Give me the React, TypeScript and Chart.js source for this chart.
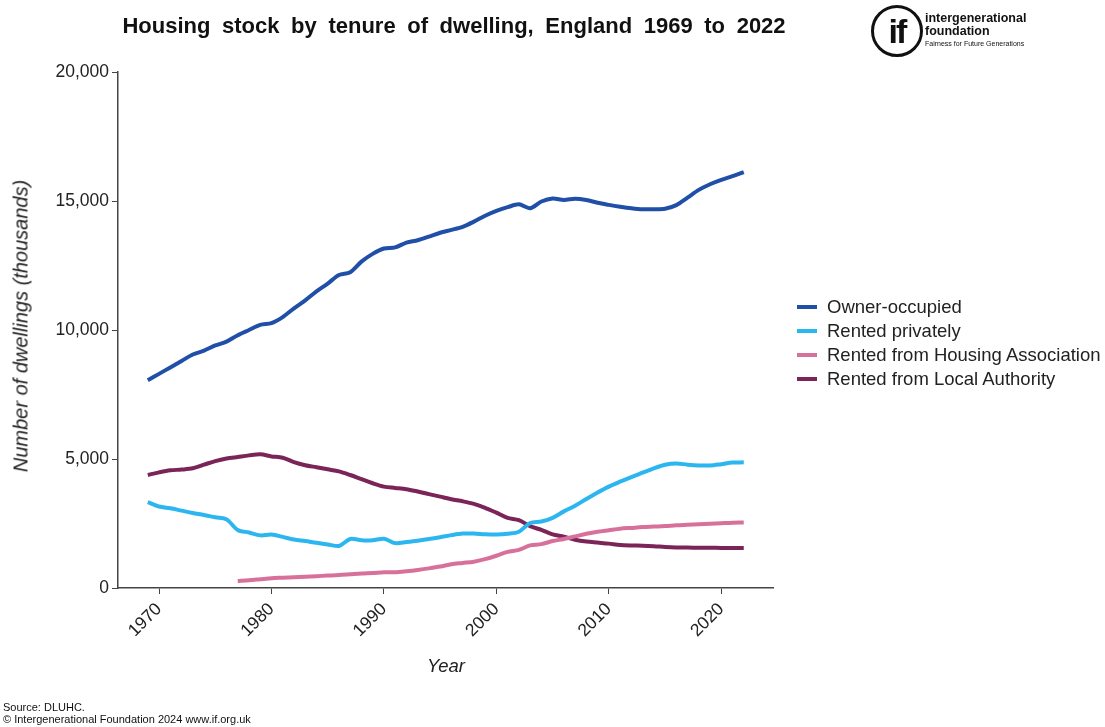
import React, { useEffect, useRef } from "react";
import { Chart, registerables } from "chart.js";

Chart.register(...registerables);

const years = [
  1969, 1970, 1971, 1972, 1973, 1974, 1975, 1976, 1977, 1978,
  1979, 1980, 1981, 1982, 1983, 1984, 1985, 1986, 1987, 1988,
  1989, 1990, 1991, 1992, 1993, 1994, 1995, 1996, 1997, 1998,
  1999, 2000, 2001, 2002, 2003, 2004, 2005, 2006, 2007, 2008,
  2009, 2010, 2011, 2012, 2013, 2014, 2015, 2016, 2017, 2018,
  2019, 2020, 2021, 2022,
];

const ownerOccupied = [
  8050, 8300, 8550, 8800, 9050, 9200, 9400, 9550, 9800, 10000,
  10200, 10270, 10500, 10840, 11150, 11500, 11800, 12130, 12240, 12650,
  12950, 13160, 13200, 13390, 13480, 13620, 13770, 13880, 14000, 14200,
  14430, 14620, 14760, 14870, 14720, 14980, 15100, 15040, 15090, 15040,
  14930, 14850, 14780, 14720, 14680, 14680, 14700, 14840, 15130, 15430,
  15650, 15820, 15960, 16120,
];

const rentedPrivately = [
  3330, 3160, 3090, 3000, 2910, 2830, 2740, 2660, 2250, 2150,
  2040, 2070, 1980, 1880, 1820, 1750, 1690, 1630, 1900, 1850,
  1850, 1910, 1740, 1780, 1830, 1900, 1970, 2050, 2110, 2110,
  2080, 2070, 2100, 2180, 2520, 2580, 2720, 2970, 3190, 3450,
  3700, 3930, 4120, 4300, 4470, 4640, 4780, 4830, 4780, 4750,
  4750, 4800, 4860, 4870,
];

const rentedHousingAssociation = [
  null, null, null, null, null, null, null, null, 270, 300,
  340, 380, 400, 420, 440, 460, 480, 500, 530, 560,
  580, 610, 610, 650, 700, 760, 830, 920, 970, 1020,
  1120, 1250, 1400, 1480, 1650, 1700, 1820, 1900, 2000, 2100,
  2180, 2240, 2300, 2330, 2360, 2380, 2400, 2430, 2450, 2470,
  2490, 2510, 2530, 2540,
];

const rentedLocalAuthority = [
  4380, 4480, 4560, 4590, 4640, 4780, 4920, 5020, 5080, 5140,
  5180, 5100, 5050, 4880, 4760, 4680, 4600, 4520, 4380, 4220,
  4060, 3930, 3880, 3830, 3740, 3640, 3540, 3440, 3360, 3260,
  3110, 2920, 2720, 2630, 2400, 2250, 2080, 1990, 1870, 1800,
  1760, 1720, 1670, 1650, 1640, 1620, 1590, 1570, 1565, 1560,
  1560, 1555, 1555, 1555,
];

const seriesLabels = [
  "Owner-occupied",
  "Rented privately",
  "Rented from Housing Association",
  "Rented from Local Authority",
];
const seriesColors = ["#1f4fa6", "#2bb6f0", "#d8709c", "#7a2458"];
const seriesValues = [ownerOccupied, rentedPrivately, rentedHousingAssociation, rentedLocalAuthority];

const xTicks = [1970, 1980, 1990, 2000, 2010, 2020];
const yTicks = [0, 5000, 10000, 15000, 20000];

const FONT = "'Liberation Sans', Arial, Helvetica, sans-serif";

export default function App() {
  const canvasRef = useRef<HTMLCanvasElement>(null);

  useEffect(() => {
    document.body.style.margin = "0";
    const canvas = canvasRef.current;
    if (!canvas) return;
    const chart = new Chart(canvas, {
      type: "line",
      data: {
        datasets: seriesValues.map((vals, i) => ({
          label: seriesLabels[i],
          data: years.map((yr, j) => ({ x: yr, y: vals[j] as any })),
          borderColor: seriesColors[i],
          backgroundColor: seriesColors[i],
          borderWidth: 4,
          pointRadius: 0,
          tension: 0.3,
          fill: false,
          spanGaps: false,
        })),
      },
      options: {
        responsive: false,
        animation: false,
        devicePixelRatio: 1,
        layout: { padding: { left: 56, right: 332, top: 72, bottom: 79 } },
        plugins: {
          legend: { display: false },
          tooltip: { enabled: false },
          title: { display: false },
        },
        scales: {
          x: {
            type: "linear",
            min: 1966.35,
            max: 2024.6,
            afterBuildTicks: (s: any) => {
              s.ticks = xTicks.map((v) => ({ value: v }));
            },
            afterFit: (s: any) => {
              s.height = 60;
            },
            ticks: {
              font: { family: FONT, size: 17.5 },
              color: "#222",
              minRotation: 45,
              maxRotation: 45,
              padding: 5,
              callback: (v: any) => String(v),
            },
            grid: { drawOnChartArea: false, drawTicks: true, tickLength: 6, color: "#444" },
            border: { display: true, color: "#444", width: 1.5 },
          },
          y: {
            type: "linear",
            min: 0,
            max: 20000,
            afterBuildTicks: (s: any) => {
              s.ticks = yTicks.map((v) => ({ value: v }));
            },
            afterFit: (s: any) => {
              s.width = 62;
            },
            ticks: {
              font: { family: FONT, size: 17.5 },
              color: "#222",
              padding: 3,
              callback: (v: any) => Number(v).toLocaleString("en-GB"),
            },
            grid: { drawOnChartArea: false, drawTicks: true, tickLength: 6, color: "#444" },
            border: { display: true, color: "#444", width: 1.5 },
          },
        },
      },
    });
    return () => chart.destroy();
  }, []);

  return (
    <div style={{ position: "absolute", left: 0, top: 0, width: 1105, height: 727, background: "#fff", fontFamily: FONT, color: "#111" }}>
      <canvas ref={canvasRef} width={1105} height={727} style={{ position: "absolute", left: 0, top: 0 }} />
      <div style={{ position: "absolute", left: 0, width: 908, top: 13, textAlign: "center", fontWeight: "bold", fontSize: 22, wordSpacing: 5.5, whiteSpace: "nowrap", color: "#111" }}>
        Housing stock by tenure of dwelling, England 1969 to 2022
      </div>
      {/* logo */}
      <div style={{ position: "absolute", left: 871, top: 5, width: 46, height: 46, borderRadius: "50%", border: "3px solid #111", display: "flex", alignItems: "center", justifyContent: "center", fontWeight: "bold", fontSize: 34, lineHeight: "34px", letterSpacing: -2 }}>
        if
      </div>
      <div style={{ position: "absolute", left: 925, top: 12, fontSize: 12.5, fontWeight: "bold", lineHeight: "13px", color: "#111" }}>
        intergenerational
        <br />
        foundation
      </div>
      <div style={{ position: "absolute", left: 925, top: 40, fontSize: 7, lineHeight: "8px", color: "#111" }}>
        Fairness for Future Generations
      </div>
      {/* y axis title */}
      <div style={{ position: "absolute", left: 21, top: 326, transform: "translate(-50%, -50%) rotate(-90deg)", whiteSpace: "nowrap", fontStyle: "italic", fontSize: 20, color: "#222" }}>
        Number of dwellings (thousands)
      </div>
      {/* x axis title */}
      <div style={{ position: "absolute", left: 446, top: 666, transform: "translate(-50%, -50%)", fontStyle: "italic", fontSize: 18.5, color: "#222" }}>
        Year
      </div>
      {/* legend */}
      <div style={{ position: "absolute", left: 797, top: 295 }}>
        {seriesLabels.map((lab, i) => (
          <div key={lab} style={{ display: "flex", alignItems: "center", height: 23.9, fontSize: 18.5, color: "#222", whiteSpace: "nowrap" }}>
            <span style={{ display: "inline-block", width: 20, height: 4, background: seriesColors[i], marginRight: 10 }} />
            {lab}
          </div>
        ))}
      </div>
      {/* source */}
      <div style={{ position: "absolute", left: 3, top: 701, fontSize: 11, lineHeight: "12px", color: "#111" }}>
        Source: DLUHC.
        <br />© Intergenerational Foundation 2024 www.if.org.uk
      </div>
    </div>
  );
}
